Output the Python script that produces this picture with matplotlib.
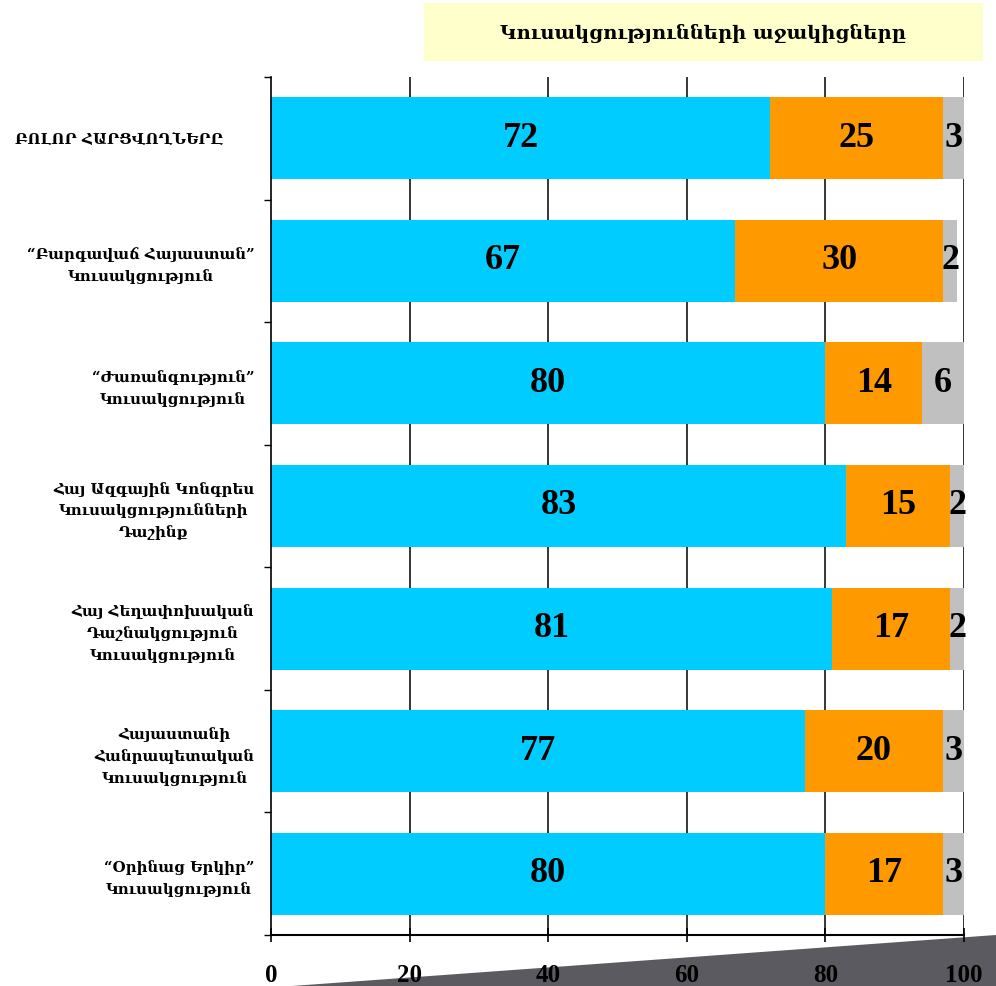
import matplotlib
matplotlib.use("Agg")
import matplotlib.pyplot as plt
from matplotlib.patches import Polygon, Rectangle

W, H = 996, 986

parties = [
    "ԲՈԼՈՐ ՀԱՐՑՎՈՂՆԵՐԸ      ",
    "“Բարգավաճ Հայաստան”\nԿուսակցություն",
    "“Ժառանգություն”\nԿուսակցություն",
    "Հայ Ազգային Կոնգրես\nԿուսակցությունների\nԴաշինք",
    "Հայ Հեղափոխական\nԴաշնակցություն\nԿուսակցություն",
    "Հայաստանի\nՀանրապետական\nԿուսակցություն",
    "“Օրինաց Երկիր”\nԿուսակցություն",
]
blue_vals = [72, 67, 80, 83, 81, 77, 80]
orange_vals = [25, 30, 14, 15, 17, 20, 17]
gray_vals = [3, 2, 6, 2, 2, 3, 3]
xticks = [0, 20, 40, 60, 80, 100]
title = "Կուսակցությունների աջակիցները"

arm = dict(family=["DejaVu Serif"], fontweight="bold")
num = dict(family=["Liberation Serif", "DejaVu Serif"], fontweight="bold")

fig = plt.figure(figsize=(W / 100, H / 100), dpi=100)
ax = fig.add_axes([271 / W, 51 / H, 693 / W, 858 / H])

ypos = list(range(len(parties)))
h = 0.67
ax.barh(ypos, blue_vals, height=h, color="#00CCFF", zorder=2)
ax.barh(ypos, orange_vals, left=blue_vals, height=h, color="#FF9900", zorder=2)
lefts2 = [b + o for b, o in zip(blue_vals, orange_vals)]
ax.barh(ypos, gray_vals, left=lefts2, height=h, color="#C0C0C0", zorder=2)

for i in ypos:
    ax.text(blue_vals[i] / 2, i, str(blue_vals[i]), ha="center", va="center",
            fontsize=26, zorder=3, **num)
    ax.text(blue_vals[i] + orange_vals[i] / 2, i, str(orange_vals[i]), ha="center",
            va="center", fontsize=26, zorder=3, **num)
    ax.text(lefts2[i] + gray_vals[i] / 2, i, str(gray_vals[i]), ha="center",
            va="center", fontsize=26, zorder=3, **num)

ax.set_xlim(0, 100)
ax.set_ylim(len(parties) - 0.5, -0.5)
ax.set_xticks(xticks)
ax.set_xticklabels([str(t) for t in xticks], fontsize=18, **num)
ax.tick_params(axis="x", direction="inout", length=10, width=1.2, pad=16)
for t in xticks[1:]:
    ax.axvline(t, color="black", lw=1.1, zorder=1)

ax.set_yticks(ypos)
ax.set_yticklabels(parties, fontsize=10.8, linespacing=1.6, ha="right",
                   multialignment="center", **arm)
ax.tick_params(axis="y", length=0, pad=12)
ax.set_yticks([i - 0.5 for i in range(len(parties) + 1)], minor=True)
ax.tick_params(axis="y", which="minor", direction="out", length=5, width=1)

for s in ["top", "right"]:
    ax.spines[s].set_visible(False)
ax.spines["left"].set_linewidth(1.2)
ax.spines["bottom"].set_linewidth(1.5)

# title box
fig.patches.append(Rectangle((424 / W, 1 - 61 / H), 559 / W, 58 / H,
                             transform=fig.transFigure, facecolor="#FFFFCC",
                             edgecolor="none", zorder=-1))
fig.text(703 / W, 1 - 33 / H, title, ha="center", va="center", fontsize=14, **arm)

# decorative wedge bottom right
fig.patches.append(Polygon([(292 / W, 0), (1, 51 / H), (1, 0)], closed=True,
                           transform=fig.transFigure, facecolor="#5A5A60",
                           edgecolor="none", zorder=-1))

fig.savefig("out.png", dpi=100)
